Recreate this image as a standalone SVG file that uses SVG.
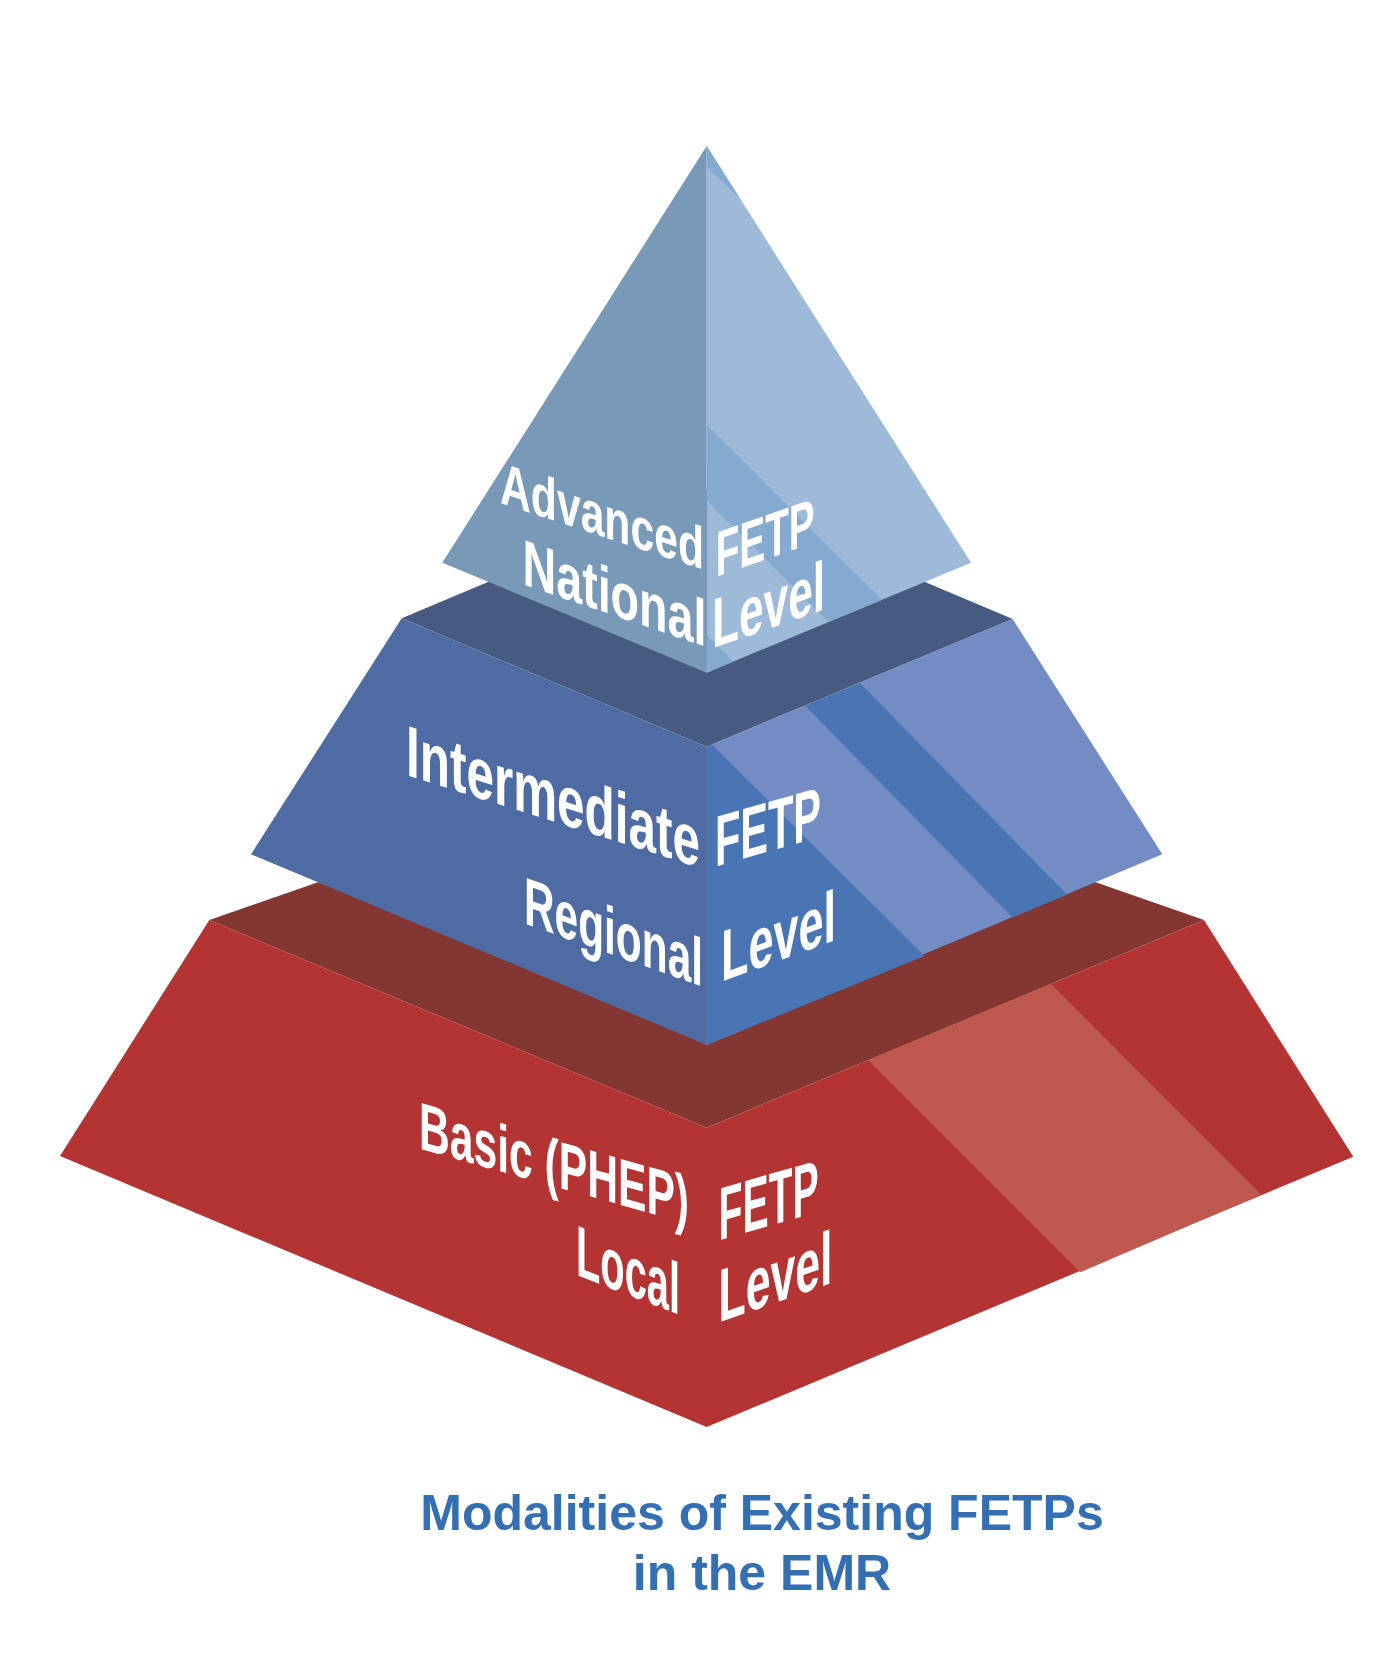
<svg xmlns="http://www.w3.org/2000/svg" width="1394" height="1674" viewBox="0 0 1394 1674">
<style>
.lbl{font-family:"Liberation Sans",Arial,sans-serif;font-weight:bold;fill:#ffffff}
.title{font-family:"Liberation Sans",Arial,sans-serif;font-weight:bold;fill:#356FB3;font-size:50px;text-anchor:middle}
</style>
<rect x="0" y="0" width="1394" height="1674" fill="#ffffff"/>
<g id="tier-basic">
<polygon points="209.3,920 706.7,747 1204,920 706.7,1127.7" fill="#843632"/>
<polygon points="209.3,920 706.7,1127.7 1204,920 1353.3,1156.7 706.7,1427 60,1156" fill="#B43333"/>
<polygon points="868.2,1060.2 1051,984 1261,1194.5 1080.3,1272.3" fill="#C0594D"/>
<text class="lbl" font-size="67" textLength="270" lengthAdjust="spacingAndGlyphs" transform="matrix(1 0.28 0 1 419 1148.5)">Basic (PHEP)</text>
<text class="lbl" font-size="75" textLength="100" lengthAdjust="spacingAndGlyphs" transform="matrix(1 -0.287 0 1 718.5 1240.4)">FETP</text>
<text class="lbl" font-size="72" textLength="104" lengthAdjust="spacingAndGlyphs" transform="matrix(1 0.386 0 1 576 1274.8)">Local</text>
<text class="lbl" font-size="75" textLength="114" lengthAdjust="spacingAndGlyphs" transform="matrix(1 -0.35 0 1 718.5 1322.6)">Level</text>
</g>
<g id="tier-intermediate">
<polygon points="401.7,618.3 706.7,490 1012.7,619 706.7,746.7" fill="#475B80"/>
<polygon points="401.7,618.3 706.7,746.7 706.7,1045 251,854.3" fill="#4E6CA3"/>
<polygon points="706.7,746.7 1012.7,619 1162.3,854.3 706.7,1045" fill="#738DC4"/>
<polygon points="706.7,746.7 712,744.5 924.3,956 706.7,1045" fill="#4A75B4"/>
<polygon points="805,705.7 860,683 1067.2,894.7 1012.4,917.3" fill="#4A75B4"/>
<text class="lbl" font-size="72" textLength="294" lengthAdjust="spacingAndGlyphs" transform="matrix(1 0.315 0 1 406 775)">Intermediate</text>
<text class="lbl" font-size="72" textLength="106" lengthAdjust="spacingAndGlyphs" transform="matrix(1 -0.283 0 1 715 866.7)">FETP</text>
<text class="lbl" font-size="67" textLength="179" lengthAdjust="spacingAndGlyphs" transform="matrix(1 0.355 0 1 524 923.3)">Regional</text>
<text class="lbl" font-size="72" textLength="115" lengthAdjust="spacingAndGlyphs" transform="matrix(1 -0.363 0 1 721 981.7)">Level</text>
</g>
<g id="tier-advanced">
<polygon points="706.7,146 442.3,562.7 706.7,672.7" fill="#7899B8"/>
<polygon points="706.7,146 971,562.7 706.7,672.7" fill="#9DBAD9"/>
<polygon points="706.7,146 740,198.5 706.7,166.7" fill="#85AACF"/>
<polygon points="706.7,425 882,599.7 828.6,622 706.7,500.4" fill="#85AACF"/>
<polygon points="706.7,635 733.3,661.6 706.7,672.7" fill="#85AACF"/>
<text class="lbl" font-size="59" textLength="204" lengthAdjust="spacingAndGlyphs" transform="matrix(1 0.327 0 1 500 503)">Advanced</text>
<text class="lbl" font-size="65" textLength="184" lengthAdjust="spacingAndGlyphs" transform="matrix(1 0.34 0 1 522.5 584.3)">National</text>
<text class="lbl" font-size="64" textLength="99" lengthAdjust="spacingAndGlyphs" transform="matrix(1 -0.35 0 1 715.7 577)">FETP</text>
<text class="lbl" font-size="70" textLength="113" lengthAdjust="spacingAndGlyphs" transform="matrix(1 -0.348 0 1 712 648.6)">Level</text>
</g>
<g id="caption">
<text class="title" x="762" y="1530">Modalities of Existing FETPs</text>
<text class="title" x="762" y="1590">in the EMR</text>
</g>
</svg>
